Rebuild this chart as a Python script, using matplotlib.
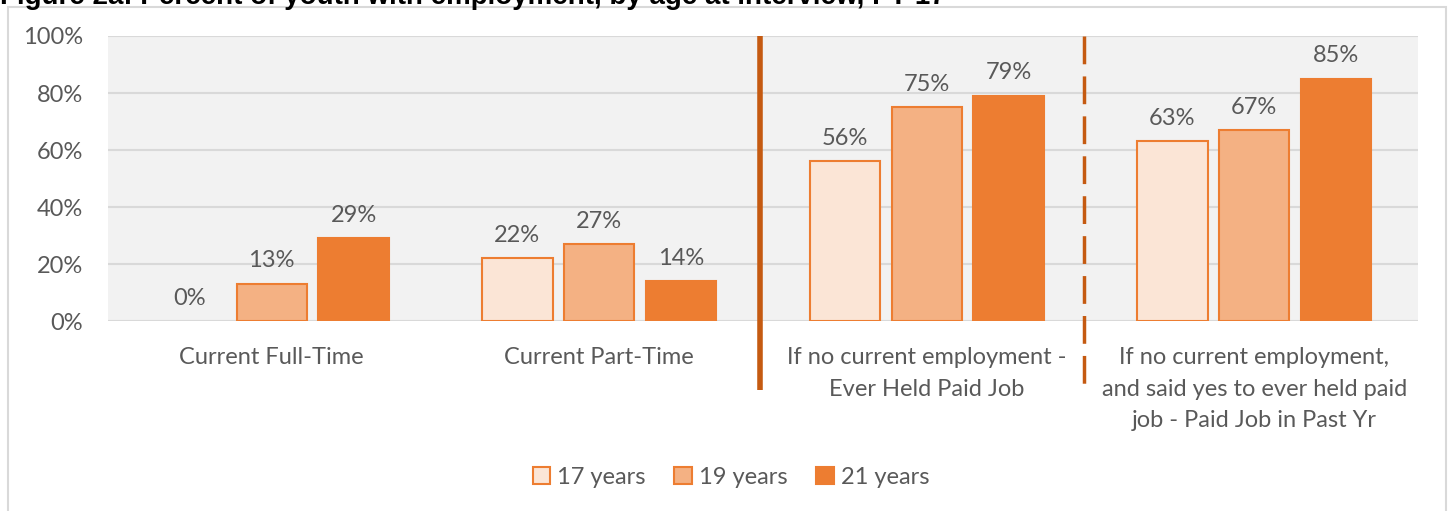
import matplotlib
matplotlib.use("Agg")
import matplotlib.pyplot as plt
import numpy as np
from matplotlib.patches import Rectangle, Patch

# daten
categories = [
    "Current Full-Time",
    "Current Part-Time",
    "If no current employment -\nEver Held Paid Job",
    "If no current employment,\nand said yes to ever held paid\njob - Paid Job in Past Yr",
]
series_names = ["17 years", "19 years", "21 years"]
age17 = [0, 22, 56, 63]
age19 = [13, 27, 75, 67]
age21 = [29, 14, 79, 85]
yticks = [0, 20, 40, 60, 80, 100]

fills = ["#fbe5d6", "#f4b183", "#ed7d31"]
edge = "#ed7d31"
txt = "#595959"
line_col = "#c55a11"

plt.rcParams["font.family"] = ["Lato", "DejaVu Sans"]

fig = plt.figure(figsize=(14.5, 5.11), dpi=100)
ax = fig.add_axes([108 / 1450, 1 - 321 / 511, 1310 / 1450, 285 / 511])
ax.set_facecolor("#f2f2f2")

# rahmen um das ganze
fig.patches.append(Rectangle((8 / 1450, -0.1), 1438 / 1450, 1.1 - 7 / 511,
                             transform=fig.transFigure, fill=False,
                             edgecolor="#d9d9d9", linewidth=1.5))

# titel, oben abgeschnitten wie im original
fig.text(0.0, 1 - 4 / 511, "Figure 2a: Percent of youth with employment, by age at interview, FY 17",
         family="Liberation Sans", fontweight="bold", fontsize=20, color="black", va="baseline")

x = np.arange(len(categories))
w = 0.215
step = 0.25
for i, vals in enumerate([age17, age19, age21]):
    pos = x + (i - 1) * step
    bars = ax.bar(pos, vals, width=w, color=fills[i], edgecolor=edge,
                  linewidth=1.5, zorder=3)
    for b, xp, v in zip(bars, pos, vals):
        if v == 0:
            b.set_visible(False)
        ax.annotate(f"{v}%", (xp, v), xytext=(0, 9), textcoords="offset points",
                    ha="center", va="bottom", fontsize=17, color=txt)

ax.set_xlim(-0.5, 3.5)
ax.set_ylim(0, 100)
ax.set_yticks(yticks)
ax.set_yticklabels([f"{t}%" for t in yticks])
ax.yaxis.grid(True, color="#d9d9d9", linewidth=1.5, zorder=0)
ax.set_axisbelow(True)
ax.set_xticks(x)
ax.set_xticklabels(categories, linespacing=1.6)
ax.tick_params(axis="both", length=0, labelsize=17, labelcolor=txt)
ax.tick_params(axis="y", pad=18)
ax.tick_params(axis="x", pad=19)
for s in ax.spines.values():
    s.set_visible(False)

# trennlinien
tr = ax.get_xaxis_transform()
ax.plot([1.49, 1.49], [1.0, -0.242], color=line_col, linewidth=4, transform=tr,
        clip_on=False, zorder=4, solid_capstyle="butt")
ax.plot([2.48, 2.48], [1.0, -0.235], color=line_col, linewidth=2.5, transform=tr,
        clip_on=False, zorder=4, linestyle=(0, (8, 3.5)))

handles = [Patch(facecolor=f, edgecolor=edge, linewidth=1.5) for f in fills]
leg = fig.legend(handles, series_names, loc="center",
                 bbox_to_anchor=(731 / 1450, 1 - 477 / 511), ncol=3,
                 frameon=False, fontsize=17, handlelength=0.75, handleheight=0.75,
                 handletextpad=0.3, columnspacing=1.2)
for t in leg.get_texts():
    t.set_color(txt)

fig.savefig("out.png", dpi=100)
